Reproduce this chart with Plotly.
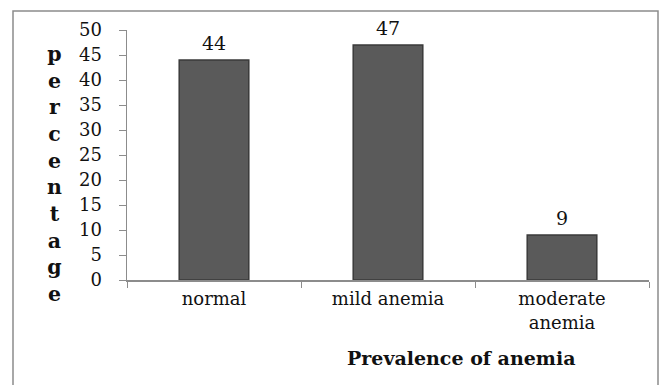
import plotly.graph_objects as go

categories = ["normal", "mild anemia", "moderate<br>anemia"]
values = [44, 47, 9]
y_ticks = [0, 5, 10, 15, 20, 25, 30, 35, 40, 45, 50]

W, H = 662, 385
L, R, T, B = 127, 13, 30, 105
pw = W - L - R
ph = H - T - B
FONT = "DejaVu Serif"

def px_x(x):
    return (x - L) / pw

def px_y(y):
    return (H - B - y) / ph

fig = go.Figure()
fig.add_trace(go.Bar(
    x=categories, y=values,
    marker=dict(color="#5a5a5a", line=dict(color="#3a3a3a", width=1.5)),
    hoverinfo="skip",
))

value_labels = [
    dict(text=str(v), x=c, y=v, xref="x", yref="y",
         xanchor="center", yanchor="middle", yshift=17, showarrow=False,
         font=dict(family=FONT, size=19, color="#111"))
    for c, v in zip(categories, values)
]

fig.update_layout(
    width=W, height=H,
    margin=dict(l=L, r=R, t=T, b=B),
    paper_bgcolor="white", plot_bgcolor="white",
    bargap=0.6, showlegend=False,
    font=dict(family=FONT, size=18, color="#111"),
    xaxis=dict(
        showline=True, linecolor="#8c8c8c", linewidth=1.5,
        ticks="outside", tickson="boundaries", ticklen=6, tickcolor="#8c8c8c",
        tickfont=dict(family=FONT, size=18, color="#111"),
        ticklabelstandoff=2,
        showgrid=False,
    ),
    yaxis=dict(
        range=[0, 50], tickvals=y_ticks,
        showline=True, linecolor="#8c8c8c", linewidth=1.5,
        ticks="outside", ticklen=7, tickcolor="#8c8c8c",
        tickfont=dict(family=FONT, size=18, color="#111"),
        ticklabelstandoff=13,
        showgrid=False, zeroline=False,
    ),
    shapes=[dict(
        type="rect", xref="paper", yref="paper",
        x0=px_x(13), x1=px_x(658), y0=px_y(400), y1=px_y(11),
        line=dict(color="#8c8c8c", width=1.5), layer="below",
    )],
    annotations=value_labels + [
        dict(text="<b>" + "<br>".join(list("percentage")) + "</b>",
             xref="paper", yref="paper", x=px_x(54), y=px_y(40),
             xanchor="center", yanchor="top", showarrow=False,
             font=dict(family=FONT, size=20.5, color="#111"),
             align="center"),
        dict(text="<b>Prevalence of anemia</b>",
             xref="paper", yref="paper", x=px_x(461), y=px_y(358),
             xanchor="center", yanchor="middle", showarrow=False,
             font=dict(family=FONT, size=19, color="#111")),
    ],
)

fig.write_html("out.html",
               config={"displayModeBar": False, "staticPlot": True},
               post_script="document.body.style.margin='0';document.body.style.overflow='hidden';")
